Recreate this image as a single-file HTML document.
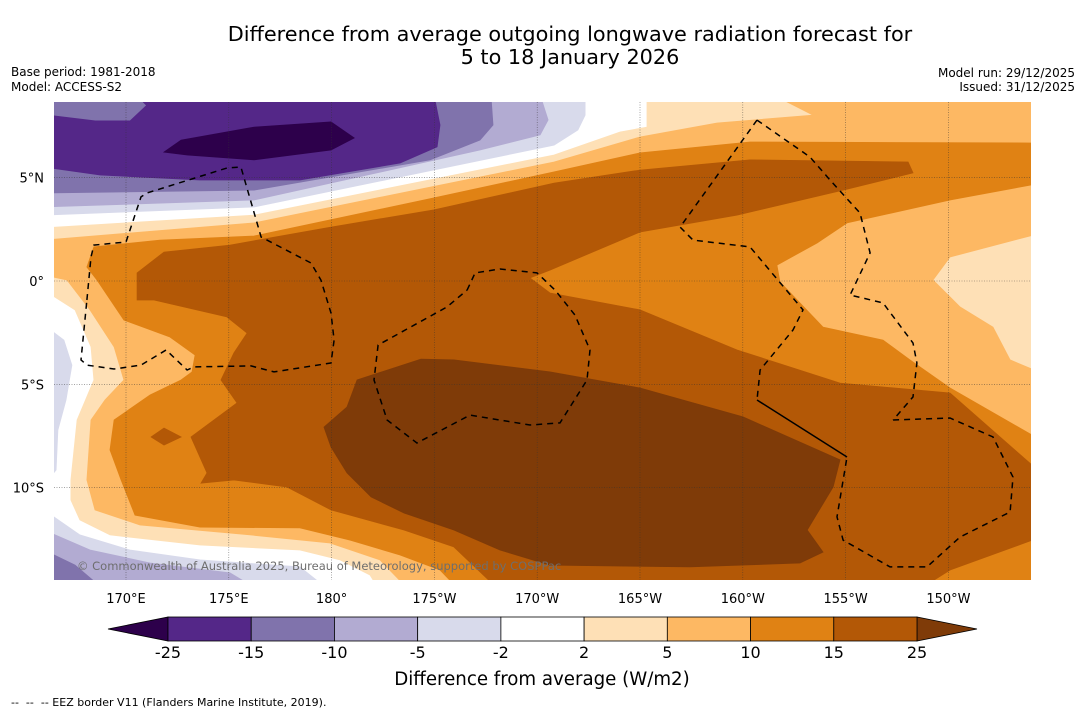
<!DOCTYPE html>
<html><head><meta charset="utf-8">
<style>
html,body{margin:0;padding:0;background:#fff;}
body{width:1085px;height:713px;overflow:hidden;font-family:"DejaVu Sans","Liberation Sans",sans-serif;}
svg text{font-family:"DejaVu Sans","Liberation Sans",sans-serif;}
</style></head>
<body>
<svg id="chart" width="1085" height="713" viewBox="0 0 1085 713" xmlns="http://www.w3.org/2000/svg">
<text x="570" y="41" font-size="20.8" text-anchor="middle" fill="#000">Difference from average outgoing longwave radiation forecast for</text>
<text x="570" y="64" font-size="20.8" text-anchor="middle" fill="#000">5 to 18 January 2026</text>
<text x="11" y="76" font-size="12">Base period: 1981-2018</text>
<text x="11" y="91" font-size="12">Model: ACCESS-S2</text>
<text x="1075" y="77" font-size="12" text-anchor="end">Model run: 29/12/2025</text>
<text x="1075" y="91" font-size="12" text-anchor="end">Issued: 31/12/2025</text>
<defs><clipPath id="plotclip"><rect x="54" y="102" width="977" height="478"/></clipPath></defs>
<g id="map" clip-path="url(#plotclip)"></g>
<g id="axes"></g>
<text x="77" y="570" font-size="11.5" fill="#6e6e6e">© Commonwealth of Australia 2025, Bureau of Meteorology, supported by COSPPac</text>
<g id="cbar"></g>
<text x="542" y="685" font-size="18.2" text-anchor="middle">Difference from average (W/m2)</text>
<text x="11" y="706" font-size="11" style="white-space:pre" xml:space="preserve">--  --  -- EEZ border V11 (Flanders Marine Institute, 2019).</text>
</svg>
<script>
// axis definitions
const lonTicks = [170,175,180,185,190,195,200,205,210];
const lonTickLabels = ["170°E","175°E","180°","175°W","170°W","165°W","160°W","155°W","150°W"];
const latTicks = [5,0,-5,-10];
const latTickLabels = ["5°N","0°","5°S","10°S"];
const cbarLevels = [-25,-15,-10,-5,-2,2,5,10,15,25];
const cbarColors = ["#542788","#8073ac","#b2abd2","#d8daeb","#ffffff","#fee0b6","#fdb863","#e08214","#b35806"];
const cbarUnder = "#2d004b";
const cbarOver = "#7f3b08";
// contour regions (lon east 0-360, lat)
const region_gt2 = [[166,2.57],[176.23,3.19],[190.82,6.10],[194.03,7.21],[195.34,7.45],[195.34,9],[214.5,9],[214.5,-15],[182.35,-15],[181.87,-14.23],[180.41,-13.5],[178.46,-13.02],[173.6,-12.78],[169.22,-12.29],[167.76,-11.57],[167.32,-10.6],[167.32,-9.63],[167.62,-6.73],[168.44,-4.79],[168.3,-3.19],[167.52,-1.4],[166,-0.44]];
const region_gt5 = [[166,1.98],[176.23,2.81],[190.82,5.76],[195,6.97],[198.75,7.65],[203.42,8.03],[201.5,9],[214.5,9],[214.5,2.32],[210.08,1.16],[209.25,0.05],[210.57,-1.26],[212.17,-2.23],[213,-3.82],[214.5,-4.45],[214.5,-15],[183.81,-15],[182.35,-13.5],[179.92,-12.68],[176.03,-12.29],[170.68,-11.81],[168.49,-11.08],[168.1,-9.63],[168.3,-6.73],[168.98,-5.76],[169.9,-4.79],[169.42,-3.19],[168.25,-1.4],[167.13,0.05],[166,0.29]];
const region_gt10 = [[168.1,0.68],[168.44,1.65],[171.65,1.98],[176.23,2.18],[184.98,4.02],[190.82,5.28],[195,6.2],[200.35,6.73],[214.5,6.68],[214.5,4.74],[210.08,3.92],[205.07,2.81],[203.61,1.84],[201.66,0.77],[201.81,-0.05],[203.9,-2.23],[206.82,-2.86],[208.13,-3.82],[210.08,-5.18],[214.5,-7.7],[214.5,-15],[186.25,-15],[185.27,-13.99],[183.33,-13.26],[180.9,-12.54],[178.46,-11.95],[173.6,-11.91],[170.44,-11.33],[169.76,-9.63],[169.22,-8.18],[169.42,-6.73],[171.17,-5.52],[172.68,-4.79],[173.21,-4.4],[173.36,-3.58],[172.14,-2.71],[169.9,-1.89],[168.59,0.05]];
const region_gt15 = [[170.54,-0.92],[170.54,0.39],[171.85,1.4],[175.06,1.74],[179.97,2.61],[184.98,3.44],[190.82,4.74],[195,5.37],[200.35,5.86],[208.04,5.76],[208.28,5.23],[204.88,4.4],[199.72,3.19],[195,2.37],[190.62,0.53],[189.65,0.15],[190.62,-0.58],[195,-1.4],[199.72,-3.34],[204.73,-4.94],[210.08,-5.42],[214.5,-9.29],[214.5,-12.39],[210.08,-13.99],[208.47,-15],[188.19,-15],[185.95,-12.87],[183.52,-12.05],[179.97,-11.08],[177.83,-9.97],[175.25,-9.63],[173.65,-9.78],[173.94,-9.29],[173.16,-7.55],[175.4,-5.9],[174.62,-4.79],[175.25,-3.48],[175.89,-2.52],[174.91,-1.74],[171.36,-0.92]];
const region_gt15b = [[171.22,-7.55],[171.85,-7.12],[172.68,-7.55],[171.85,-7.94]];
const region_gt25 = [[185.95,-3.82],[190.62,-4.4],[195,-5.18],[200.01,-6.58],[204.73,-8.66],[204.39,-9.97],[203.13,-12.05],[203.9,-13.12],[202.78,-13.65],[197.43,-13.84],[190.62,-13.75],[188.19,-13.02],[185.95,-12.05],[183.52,-11.23],[181.92,-10.45],[180.75,-9.29],[179.97,-8.03],[179.63,-7.07],[180.75,-6.1],[181.24,-4.79],[184.35,-3.78]];
const region_lt2 = [[166,9],[192.33,9],[192.33,8.03],[191.98,7.31],[190.82,6.58],[176.23,3.58],[166,3.19]];
const region_lt2b = [[166,-2.13],[166.98,-2.86],[167.37,-4.07],[167.08,-5.76],[166.69,-7.21],[166.6,-9.15],[166,-9.87]];
const region_lt2c = [[166,-11.08],[167.76,-12.29],[170.19,-13.02],[173.6,-13.5],[178.46,-13.84],[179.92,-15],[166,-15]];
const region_lt5 = [[166,9],[190.14,9],[190.53,7.8],[190.14,7.07],[187.22,6.34],[176.23,3.92],[166,3.58]];
const region_lt5b = [[166,-12.05],[168.25,-13.02],[171.17,-13.65],[175.06,-14.13],[176.52,-15],[166,-15]];
const region_lt10 = [[166,9],[187.75,9],[187.85,7.55],[187.22,6.82],[184.79,5.86],[176.23,4.4],[166,4.26]];
const region_lt10b = [[166,-13.02],[167.52,-13.75],[169.0,-15],[166,-15]];
const region_lt15 = [[170.5,9],[184.98,9],[185.27,7.55],[185.13,6.49],[183.33,5.71],[178.46,4.89],[173.6,4.89],[168.74,5.13],[166,5.52],[166,8.05],[168.5,7.75],[170.2,7.75],[171,8.5]];
const region_lt25 = [[171.85,6.24],[172.68,6.82],[176.23,7.45],[179.97,7.7],[181.1,6.92],[179.97,6.34],[176.23,5.86],[172.97,6.1]];
// EEZ borders
const eezA = [[168.1,-0.92],[168.3,1.16],[168.44,1.74],[170,1.89],[170.73,4.07],[171.02,4.26],[174.91,5.47],[175.59,5.52],[176.57,2.13],[176.86,1.98],[179,0.87],[179.48,0.05],[179.97,-1.55],[180.12,-2.86],[179.97,-3.97],[177.2,-4.4],[176.08,-4.11],[173.31,-4.16],[172.97,-4.31],[171.95,-3.34],[170.73,-4.07],[169.42,-4.26],[168.1,-4.07],[167.81,-3.82],[168.1,-0.92]];
const eezB = [[186.59,-0.44],[186.98,0.39],[188.19,0.58],[189.99,0.39],[190.87,-0.44],[191.84,-1.65],[192.57,-3.34],[192.42,-4.79],[191.11,-6.87],[189.65,-6.97],[186.73,-6.49],[184.15,-7.84],[182.7,-6.73],[182.06,-4.79],[182.26,-3.1],[185.61,-1.26],[186.59,-0.44]];
const eezC1 = [[200.69,7.79],[203.27,6.0],[204.24,4.89],[205.7,3.29],[206.19,1.36],[205.22,-0.68],[206.82,-1.06],[208.28,-3.0],[208.47,-3.97],[208.28,-5.61],[207.31,-6.73]];
const eezC2 = [[207.31,-6.73],[210.08,-6.63],[212.17,-7.55],[213.14,-9.49],[213,-11.18],[210.57,-12.39],[208.96,-13.84],[207.16,-13.84],[204.88,-12.54],[204.58,-11.42],[205.07,-8.52]];
const eezC3 = [[200.69,7.79],[196.95,2.61],[197.58,1.98],[200.35,1.65],[202.93,-1.4],[202.44,-2.37],[200.84,-4.31],[200.69,-5.76]];
const eezSolid = [[200.69,-5.76],[205.07,-8.52]];

const NS = "http://www.w3.org/2000/svg";
function xScale(lon){ return 126 + (lon - 170) * 20.56; }
function yScale(lat){ return 281 - lat * 20.66; }
function pts(arr){ return arr.map(p => xScale(p[0]).toFixed(1) + "," + yScale(p[1]).toFixed(1)).join(" "); }

const map = document.getElementById("map");
const bg = document.createElementNS(NS,"rect");
bg.setAttribute("x",54);bg.setAttribute("y",102);bg.setAttribute("width",977);bg.setAttribute("height",478);bg.setAttribute("fill","#ffffff");


map.appendChild(bg);

const layers = [
 ["contour-gt-2", region_gt2, "#fee0b6"],
 ["contour-gt-5", region_gt5, "#fdb863"],
 ["contour-gt-10", region_gt10, "#e08214"],
 ["contour-gt-15", region_gt15, "#b35806"],
 ["contour-gt-15-patch", region_gt15b, "#b35806"],
 ["contour-gt-25", region_gt25, "#7f3b08"],
 ["contour-lt-minus2", region_lt2, "#d8daeb"],
 ["contour-lt-minus2-west", region_lt2b, "#d8daeb"],
 ["contour-lt-minus2-south", region_lt2c, "#d8daeb"],
 ["contour-lt-minus5", region_lt5, "#b2abd2"],
 ["contour-lt-minus5-south", region_lt5b, "#b2abd2"],
 ["contour-lt-minus10", region_lt10, "#8073ac"],
 ["contour-lt-minus10-south", region_lt10b, "#8073ac"],
 ["contour-lt-minus15", region_lt15, "#542788"],
 ["contour-lt-minus25", region_lt25, "#2d004b"]
];
layers.forEach(l => {
  const p = document.createElementNS(NS,"polygon");
  p.setAttribute("points", pts(l[1]));
  p.setAttribute("fill", l[2]);
  p.setAttribute("stroke", l[2]);
  p.setAttribute("stroke-width", "0.8");
  
  
  map.appendChild(p);
});

// gridlines
lonTicks.forEach(lon => {
  const g = document.createElementNS(NS,"line");
  g.setAttribute("x1",xScale(lon));g.setAttribute("x2",xScale(lon));g.setAttribute("y1",102);g.setAttribute("y2",580);
  g.setAttribute("stroke","#333");g.setAttribute("stroke-width","0.6");g.setAttribute("stroke-dasharray","1,1.5");g.setAttribute("opacity","0.7");
  
  
  map.appendChild(g);
});
latTicks.forEach(lat => {
  const g = document.createElementNS(NS,"line");
  g.setAttribute("y1",yScale(lat));g.setAttribute("y2",yScale(lat));g.setAttribute("x1",54);g.setAttribute("x2",1031);
  g.setAttribute("stroke","#333");g.setAttribute("stroke-width","0.6");g.setAttribute("stroke-dasharray","1,1.5");g.setAttribute("opacity","0.7");
  
  
  map.appendChild(g);
});

// EEZ borders
[["eez-border-kiribati-gilbert",eezA,true],["eez-border-phoenix",eezB,true],["eez-border-line-north",eezC1,true],["eez-border-line-south",eezC2,true],["eez-border-line-west",eezC3,true],["eez-border-solid",eezSolid,false]].forEach(e => {
  const pl = document.createElementNS(NS,"polyline");
  pl.setAttribute("points", pts(e[1]));
  pl.setAttribute("fill","none");pl.setAttribute("stroke","#000");pl.setAttribute("stroke-width","1.5");
  if (e[2]) pl.setAttribute("stroke-dasharray","6,5");
  
  
  map.appendChild(pl);
});

// axis labels
const axes = document.getElementById("axes");
lonTicks.forEach((lon,i) => {
  const t = document.createElementNS(NS,"text");
  t.setAttribute("x",xScale(lon));t.setAttribute("y",603);t.setAttribute("font-size","13");t.setAttribute("text-anchor","middle");
  t.textContent = lonTickLabels[i];
  
  
  axes.appendChild(t);
});
latTicks.forEach((lat,i) => {
  const t = document.createElementNS(NS,"text");
  t.setAttribute("x",44);t.setAttribute("y",yScale(lat)+5);t.setAttribute("font-size","13");t.setAttribute("text-anchor","end");
  t.textContent = latTickLabels[i];
  
  
  axes.appendChild(t);
});

// colorbar
const cb = document.getElementById("cbar");
const cbX0 = 168, cbW = 749, cbY = 617, cbH = 24;
function cbIndexX(i){ return cbX0 + i * cbW / (cbarLevels.length - 1); }
const under = document.createElementNS(NS,"polygon");
under.setAttribute("points", `${cbX0},${cbY} ${cbX0},${cbY+cbH} 108,${cbY+cbH/2}`);
under.setAttribute("fill",cbarUnder);under.setAttribute("stroke","#000");under.setAttribute("stroke-width","0.8");


cb.appendChild(under);
const endX = cbIndexX(cbarLevels.length - 1);
const over = document.createElementNS(NS,"polygon");
over.setAttribute("points", `${endX},${cbY} ${endX},${cbY+cbH} 977,${cbY+cbH/2}`);
over.setAttribute("fill",cbarOver);over.setAttribute("stroke","#000");over.setAttribute("stroke-width","0.8");


cb.appendChild(over);
cbarColors.forEach((c,i) => {
  const r = document.createElementNS(NS,"rect");
  r.setAttribute("x",cbIndexX(i));r.setAttribute("y",cbY);r.setAttribute("width",cbIndexX(i+1)-cbIndexX(i));r.setAttribute("height",cbH);
  r.setAttribute("fill",c);r.setAttribute("stroke","#000");r.setAttribute("stroke-width","0.8");
  
  
  cb.appendChild(r);
});
cbarLevels.forEach((v,i) => {
  const t = document.createElementNS(NS,"text");
  t.setAttribute("x",cbIndexX(i));t.setAttribute("y",658);t.setAttribute("font-size","16");t.setAttribute("text-anchor","middle");
  t.textContent = String(v);
  
  
  cb.appendChild(t);
});
</script>
</body></html>
